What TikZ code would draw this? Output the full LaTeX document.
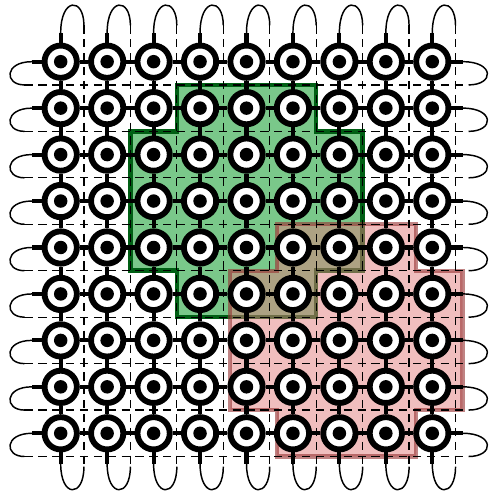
\documentclass[tikz,border=0pt]{standalone}
\usepackage{xcolor}
\usepackage{tikz}
\definecolor{patchgreen}{RGB}{122,200,138}
\definecolor{patchgreenline}{RGB}{0,95,20}
\definecolor{patchred}{RGB}{225,125,125}
\definecolor{patchredline}{RGB}{150,50,50}

\begin{document}
\begin{tikzpicture}[
    site/.style={circle, draw=black, line width=3.6pt, fill=white, minimum size=0.695cm, inner sep=0pt,
        path picture={\fill[black] (path picture bounding box.center) circle (0.145);}},
    bond/.style={line width=2.5pt},
    dual/.style={line width=0.75pt, dash pattern=on 5pt off 3.5pt},
    wrap/.style={line width=0.9pt}]
    \useasboundingbox (-1.307,-9.264) rectangle (9.221,1.328);
    \filldraw[fill=patchgreen, draw=patchgreenline, line width=2.8pt]
        (2.5,-0.5) -- (5.5,-0.5) -- (5.5,-1.5) -- (6.5,-1.5) -- (6.5,-4.5) -- (5.5,-4.5) -- (5.5,-5.5)
        -- (2.5,-5.5) -- (2.5,-4.5) -- (1.5,-4.5) -- (1.5,-1.5) -- (2.5,-1.5) -- cycle;
    \filldraw[fill=patchred, fill opacity=0.5, draw=patchredline, draw opacity=0.6, line width=2.6pt]
        (4.65,-3.5) -- (7.65,-3.5) -- (7.65,-4.5) -- (8.65,-4.5) -- (8.65,-7.5) -- (7.65,-7.5) -- (7.65,-8.5)
        -- (4.65,-8.5) -- (4.65,-7.5) -- (3.65,-7.5) -- (3.65,-4.5) -- (4.65,-4.5) -- cycle;
    \foreach \i in {0,...,8} {
        \coordinate (t-\i) at (\i+0.5,0.78);
        \coordinate (b-\i) at (\i+0.5,-8.72);
        \coordinate (l-\i) at (-0.78,-\i-0.5);
        \coordinate (r-\i) at (8.78,-\i-0.5);
        \coordinate (ts-\i) at (\i,0.62);
        \coordinate (bs-\i) at (\i,-8.66);
        \coordinate (ls-\i) at (-0.62,-\i);
        \coordinate (rs-\i) at (8.66,-\i);
        \draw[dual] (t-\i) -- (b-\i);
        \draw[dual] (l-\i) -- (r-\i);
        \draw[wrap] (ts-\i) .. controls (\i,1.39) and (\i+0.5,1.39) .. (t-\i);
        \draw[wrap] (bs-\i) .. controls (\i,-9.39) and (\i+0.5,-9.39) .. (b-\i);
        \draw[wrap] (ls-\i) .. controls (-1.22,-\i) and (-1.22,-\i-0.5) .. (l-\i);
        \draw[wrap] (rs-\i) .. controls (9.34,-\i) and (9.34,-\i-0.5) .. (r-\i);
    }
    \foreach \i in {0,...,8}
        \foreach \j in {0,...,8}
            \node[site] (n-\i-\j) at (\i,-\j) {};
    \foreach \i in {0,...,8} {
        \draw[bond] (n-\i-0.north) -- (ts-\i);
        \draw[bond] (n-\i-8.south) -- (bs-\i);
        \draw[bond] (n-0-\i.west) -- (ls-\i);
        \draw[bond] (n-8-\i.east) -- (rs-\i);
    }
    \foreach \i [count=\k] in {0,...,7}
        \foreach \j in {0,...,8} {
            \draw[bond] (n-\i-\j.east) -- (n-\k-\j.west);
            \draw[bond] (n-\j-\i.south) -- (n-\j-\k.north);
        }
\end{tikzpicture}
\end{document}
